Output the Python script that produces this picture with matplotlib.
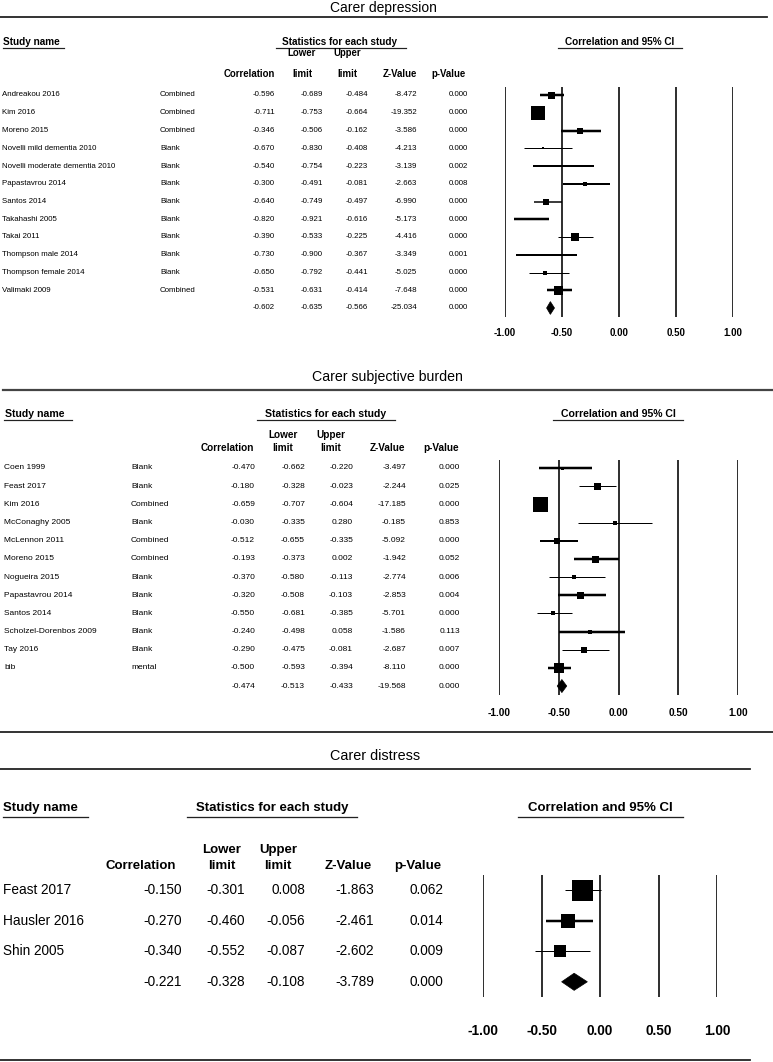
import matplotlib
matplotlib.use("Agg")
import matplotlib.pyplot as plt
from matplotlib.lines import Line2D
from matplotlib.patches import Polygon
from matplotlib.transforms import blended_transform_factory

# ---------------- data ----------------
dep_names = ["Andreakou 2016", "Kim 2016", "Moreno 2015", "Novelli mild dementia 2010",
             "Novelli moderate dementia 2010", "Papastavrou 2014", "Santos 2014",
             "Takahashi 2005", "Takai 2011", "Thompson male 2014", "Thompson female 2014",
             "Valimaki 2009"]
dep_group = ["Combined", "Combined", "Combined", "Blank", "Blank", "Blank", "Blank",
             "Blank", "Blank", "Blank", "Blank", "Combined"]
dep_corr = [-0.596, -0.711, -0.346, -0.670, -0.540, -0.300, -0.640, -0.820, -0.390, -0.730, -0.650, -0.531]
dep_lower = [-0.689, -0.753, -0.506, -0.830, -0.754, -0.491, -0.749, -0.921, -0.533, -0.900, -0.792, -0.631]
dep_upper = [-0.484, -0.664, -0.162, -0.408, -0.223, -0.081, -0.497, -0.616, -0.225, -0.367, -0.441, -0.414]
dep_z = [-8.472, -19.352, -3.586, -4.213, -3.139, -2.663, -6.990, -5.173, -4.416, -3.349, -5.025, -7.648]
dep_p = [0.000, 0.000, 0.000, 0.000, 0.002, 0.008, 0.000, 0.000, 0.000, 0.001, 0.000, 0.000]
dep_summary = [-0.602, -0.635, -0.566, -25.034, 0.000]

bur_names = ["Coen 1999", "Feast 2017", "Kim 2016", "McConaghy 2005", "McLennon 2011",
             "Moreno 2015", "Nogueira 2015", "Papastavrou 2014", "Santos 2014",
             "Scholzel-Dorenbos 2009", "Tay 2016", "bib"]
bur_group = ["Blank", "Blank", "Combined", "Blank", "Combined", "Combined", "Blank",
             "Blank", "Blank", "Blank", "Blank", "mental"]
bur_corr = [-0.470, -0.180, -0.659, -0.030, -0.512, -0.193, -0.370, -0.320, -0.550, -0.240, -0.290, -0.500]
bur_lower = [-0.662, -0.328, -0.707, -0.335, -0.655, -0.373, -0.580, -0.508, -0.681, -0.498, -0.475, -0.593]
bur_upper = [-0.220, -0.023, -0.604, 0.280, -0.335, 0.002, -0.113, -0.103, -0.385, 0.058, -0.081, -0.394]
bur_z = [-3.497, -2.244, -17.185, -0.185, -5.092, -1.942, -2.774, -2.853, -5.701, -1.586, -2.687, -8.110]
bur_p = [0.000, 0.025, 0.000, 0.853, 0.000, 0.052, 0.006, 0.004, 0.000, 0.113, 0.007, 0.000]
bur_summary = [-0.474, -0.513, -0.433, -19.568, 0.000]

dis_names = ["Feast 2017", "Hausler 2016", "Shin 2005"]
dis_corr = [-0.150, -0.270, -0.340]
dis_lower = [-0.301, -0.460, -0.552]
dis_upper = [0.008, -0.056, -0.087]
dis_z = [-1.863, -2.461, -2.602]
dis_p = [0.062, 0.014, 0.009]
dis_summary = [-0.221, -0.328, -0.108, -3.789, 0.000]

tick_values = [-1.0, -0.5, 0.0, 0.5, 1.0]

# ---------------- styles (marker size px, CI line px) ----------------
dep_sq = [7, 14, 6, 2.5, 2.5, 5, 6, 2, 8, 2, 4, 9]
dep_lw = [2.5, 1, 2.5, 1, 2, 2, 1.5, 2.5, 1, 2, 1, 2.5]
bur_sq = [3, 7, 15, 4, 6, 7, 4, 7, 5, 4, 6, 10]
bur_lw = [2.5, 1, 1, 1, 2, 2.5, 1, 2.5, 1, 2.5, 1, 2.5]
dis_sq = [21, 14, 12]
dis_lw = [1, 2.5, 1]

W, H = 773, 1062
FONT = "Liberation Sans"
fig = plt.figure(figsize=(W / 100, H / 100), dpi=100)
fig.patch.set_facecolor("white")
PX = 72 / 100.0  # points per pixel


def T(x, y, s, size, ha="left", weight="normal"):
    fig.text(x / W, 1 - y / H, s, ha=ha, va="center", fontsize=size,
             fontweight=weight, family=FONT, color="black")


def HL(x0, x1, y, lw=1.5, color="#222222"):
    fig.add_artist(Line2D([x0 / W, x1 / W], [1 - y / H, 1 - y / H],
                          transform=fig.transFigure, color=color, lw=lw * PX))


def forest(x_left, x_right, top, bottom, r0, dy, corr, lower, upper, summ,
           sq, lw, diamond_h, tick_y, tick_size):
    ax = fig.add_axes([x_left / W, 1 - bottom / H, (x_right - x_left) / W, (bottom - top) / H])
    ax.set_xlim(-1, 1)
    ax.set_ylim((bottom - r0) / dy, (top - r0) / dy)
    ax.axis("off")
    for v in tick_values:
        ax.axvline(v, color="black", lw=1.6 * PX)
    for i in range(len(corr)):
        ax.plot([lower[i], upper[i]], [i, i], color="black", lw=lw[i] * PX,
                solid_capstyle="butt", clip_on=False, zorder=3)
        ax.plot([corr[i]], [i], marker="s", ms=sq[i] * PX, color="black",
                mec="black", mew=0, clip_on=False, zorder=4)
    n = len(corr)
    est, lo, hi = summ[0], summ[1], summ[2]
    ax.add_patch(Polygon([[lo, n], [est, n - diamond_h], [hi, n], [est, n + diamond_h]],
                         closed=True, facecolor="black", edgecolor="black", lw=0.5,
                         clip_on=False, zorder=4))
    tr = blended_transform_factory(ax.transData, fig.transFigure)
    for v in tick_values:
        ax.text(v, 1 - tick_y / H, f"{v:.2f}", transform=tr, ha="center", va="center",
                fontsize=tick_size, fontweight="bold", family=FONT)
    return ax


# ================= Panel 1: Carer depression =================
T(383, 8, "Carer depression", 10.0, ha="center")
HL(0, 767, 17, 1.8)
T(3, 42, "Study name", 7.2, weight="bold")
HL(3, 64, 48, 1.2)
T(340, 42, "Statistics for each study", 7.2, ha="center", weight="bold")
HL(276, 406, 48, 1.2)
T(620, 42, "Correlation and 95% CI", 7.2, ha="center", weight="bold")
HL(558, 682, 48, 1.2)
T(275, 74, "Correlation", 6.9, ha="right", weight="bold")
T(302, 53, "Lower", 6.9, ha="center", weight="bold")
T(302, 74, "limit", 6.9, ha="center", weight="bold")
T(347, 53, "Upper", 6.9, ha="center", weight="bold")
T(347, 74, "limit", 6.9, ha="center", weight="bold")
T(417, 74, "Z-Value", 6.9, ha="right", weight="bold")
T(466, 74, "p-Value", 6.9, ha="right", weight="bold")

r0, dy = 95, 17.75
fs = 5.7
for i in range(len(dep_names)):
    y = r0 + i * dy
    T(2, y, dep_names[i], fs)
    T(160, y, dep_group[i], fs)
    T(275, y, f"{dep_corr[i]:.3f}", fs, ha="right")
    T(323, y, f"{dep_lower[i]:.3f}", fs, ha="right")
    T(368, y, f"{dep_upper[i]:.3f}", fs, ha="right")
    T(417, y, f"{dep_z[i]:.3f}", fs, ha="right")
    T(468, y, f"{dep_p[i]:.3f}", fs, ha="right")
y = r0 + len(dep_names) * dy
for xx, v in zip([275, 323, 368, 417, 468], dep_summary):
    T(xx, y, f"{v:.3f}", fs, ha="right")

forest(505, 733, 87, 317, r0, dy, dep_corr, dep_lower, dep_upper, dep_summary,
       dep_sq, dep_lw, 0.36, 333, 7.0)

# ================= Panel 2: Carer subjective burden =================
T(387, 377, "Carer subjective burden", 10.2, ha="center")
HL(3, 772, 390, 2.2, color="#444444")
T(5, 414, "Study name", 7.6, weight="bold")
HL(4, 72, 420, 1.2)
T(326, 414, "Statistics for each study", 7.6, ha="center", weight="bold")
HL(257, 395, 420, 1.2)
T(618, 414, "Correlation and 95% CI", 7.6, ha="center", weight="bold")
HL(553, 683, 420, 1.2)
T(254, 448, "Correlation", 7.2, ha="right", weight="bold")
T(283, 435, "Lower", 7.2, ha="center", weight="bold")
T(283, 448, "limit", 7.2, ha="center", weight="bold")
T(331, 435, "Upper", 7.2, ha="center", weight="bold")
T(331, 448, "limit", 7.2, ha="center", weight="bold")
T(405, 448, "Z-Value", 7.2, ha="right", weight="bold")
T(459, 448, "p-Value", 7.2, ha="right", weight="bold")

r0, dy = 468, 18.17
fs = 6.0
for i in range(len(bur_names)):
    y = r0 + i * dy
    T(4, y, bur_names[i], fs)
    T(131, y, bur_group[i], fs)
    T(255, y, f"{bur_corr[i]:.3f}", fs, ha="right")
    T(305, y, f"{bur_lower[i]:.3f}", fs, ha="right")
    T(353, y, f"{bur_upper[i]:.3f}", fs, ha="right")
    T(406, y, f"{bur_z[i]:.3f}", fs, ha="right")
    T(460, y, f"{bur_p[i]:.3f}", fs, ha="right")
y = r0 + len(bur_names) * dy
for xx, v in zip([255, 305, 353, 406, 460], bur_summary):
    T(xx, y, f"{v:.3f}", fs, ha="right")

forest(499, 738, 460, 695, r0, dy, bur_corr, bur_lower, bur_upper, bur_summary,
       bur_sq, bur_lw, 0.36, 713, 7.3)

# ================= Panel 3: Carer distress =================
HL(0, 773, 732, 1.8)
T(375, 756, "Carer distress", 10.4, ha="center")
HL(0, 750, 769, 1.8)
T(3, 808, "Study name", 9.5, weight="bold")
HL(3, 88, 817, 1.3)
T(272, 808, "Statistics for each study", 9.5, ha="center", weight="bold")
HL(187, 357, 817, 1.3)
T(600, 808, "Correlation and 95% CI", 9.5, ha="center", weight="bold")
HL(518, 683, 817, 1.3)
T(176, 866, "Correlation", 9.5, ha="right", weight="bold")
T(222, 850, "Lower", 9.5, ha="center", weight="bold")
T(222, 866, "limit", 9.5, ha="center", weight="bold")
T(278, 850, "Upper", 9.5, ha="center", weight="bold")
T(278, 866, "limit", 9.5, ha="center", weight="bold")
T(372, 866, "Z-Value", 9.5, ha="right", weight="bold")
T(441, 866, "p-Value", 9.5, ha="right", weight="bold")

r0, dy = 890, 30.6
fs = 9.8
for i in range(len(dis_names)):
    y = r0 + i * dy
    T(3, y, dis_names[i], fs)
    T(182, y, f"{dis_corr[i]:.3f}", fs, ha="right")
    T(245, y, f"{dis_lower[i]:.3f}", fs, ha="right")
    T(305, y, f"{dis_upper[i]:.3f}", fs, ha="right")
    T(374, y, f"{dis_z[i]:.3f}", fs, ha="right")
    T(443, y, f"{dis_p[i]:.3f}", fs, ha="right")
y = r0 + len(dis_names) * dy
for xx, v in zip([182, 245, 305, 374, 443], dis_summary):
    T(xx, y, f"{v:.3f}", fs, ha="right")

forest(483, 717, 875, 997, r0, dy, dis_corr, dis_lower, dis_upper, dis_summary,
       dis_sq, dis_lw, 0.28, 1031, 9.8)

HL(0, 750, 1060, 1.8)

fig.savefig("out.png", dpi=100, facecolor="white")
